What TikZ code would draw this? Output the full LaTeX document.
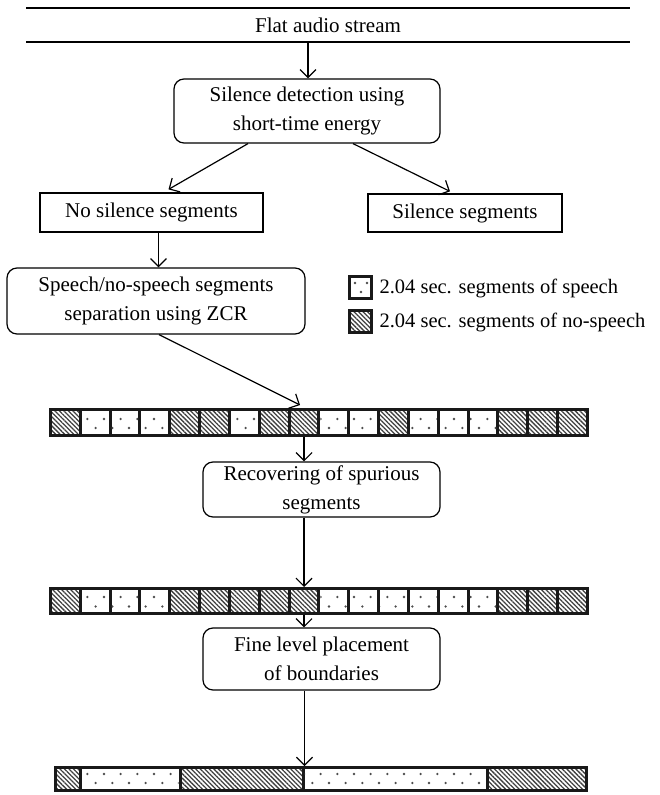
\documentclass[tikz,border=0pt]{standalone}
\usepackage{fontspec}
\setmainfont{Liberation Serif}
\usetikzlibrary{arrows.meta,patterns.meta,positioning}

\tikzset{
  box/.style={draw,line width=1.2pt,align=center,inner sep=0pt},
  rbox/.style={box,rounded corners=10pt},
  cell/.style={draw=black!90,line width=3pt,minimum width=29.83pt,inner sep=0pt},
  nosp/.style={pattern={Lines[angle=-45,distance=3.2pt,line width=1.3pt]},pattern color=black!75},
  spch/.style={fill=white},
  arr/.style={-{Straight Barb[length=8pt,width=16pt]},line width=1.2pt}
}

\begin{document}
\begin{tikzpicture}[x=1pt,y=-1pt,font=\fontsize{21}{29}\selectfont]
\useasboundingbox (0,0) rectangle (660,795);

	% input stream
	\draw[line width=1.5pt] (26,8) -- (630,8);
	\draw[line width=1.5pt] (26,42) -- (630,42);
	\node (stream) at (328,25) {Flat audio stream};
	\coordinate (bar) at (308,42);

	% boxes
	\node[rbox,minimum width=266pt,minimum height=64pt] (detect) at (307,111) {Silence detection using\\short-time energy};
	\node[box,minimum width=223pt,minimum height=39pt] (nosil) at (151.5,212.5) {No silence segments};
	\node[box,minimum width=194pt,minimum height=38pt] (sil) at (465,213) {Silence segments};
	\node[rbox,minimum width=298pt,minimum height=66pt] (sepzcr) at (156,301) {Speech/no-speech segments\\separation using ZCR};
	\node[rbox,minimum width=237pt,minimum height=55pt] (recover) at (321.5,489.5) {Recovering of spurious\\segments};
	\node[rbox,minimum width=237pt,minimum height=62pt] (fine) at (321.5,659) {Fine level placement\\of boundaries};

	% legend
	\node[cell,spch,minimum width=22pt,minimum height=22pt] (keyS) at (360,287) {};
	\node[cell,nosp,minimum width=22pt,minimum height=22pt] (keyN) at (360,321) {};
	\node[anchor=west,font=\fontsize{20.5}{29}\selectfont] (keyStxt) at (376,288) {2.04 sec. segments of speech};
	\node[anchor=west,font=\fontsize{20.5}{29}\selectfont] (keyNtxt) at (376,322) {2.04 sec. segments of no-speech};
	\begin{scope}
		\clip ([shift={(3pt,-3pt)}]keyS.north west) rectangle ([shift={(-3pt,3pt)}]keyS.south east);
		\fill[black!70] (355,283) circle (1.3pt);
		\fill[black!70] (367,283) circle (1.3pt);
		\fill[black!70] (361,292) circle (1.3pt);
	\end{scope}

	% strip after ZCR
	\foreach \t [count=\i from 0] in {nosp,spch,spch,spch,nosp,nosp,spch,nosp,nosp,spch,spch,nosp,spch,spch,spch,nosp,nosp,nosp}
	{
		\node[cell,minimum height=26pt,\t] (a\i) at ({50.5+29.83*(\i+0.5)},422.5) {};
	}
	\foreach \i in {1,2,3,6,9,10,12,13,14}
	{
		\begin{scope}
			\clip ([shift={(3pt,-3pt)}]a\i.north west) rectangle ([shift={(-3pt,3pt)}]a\i.south east);
			\foreach \k in {-3,...,33}
			{
				\fill[black!70] ({87.33+16.667*\k},419) circle (1.3pt);
				\fill[black!70] ({95.67+16.667*\k},428) circle (1.3pt);
			}
		\end{scope}
	}

	% strip after recovering
	\foreach \t [count=\i from 0] in {nosp,spch,spch,spch,nosp,nosp,nosp,nosp,nosp,spch,spch,spch,spch,spch,spch,nosp,nosp,nosp}
	{
		\node[cell,minimum height=25pt,\t] (b\i) at ({50.5+29.83*(\i+0.5)},601) {};
	}
	\foreach \i in {1,2,3,9,10,11,12,13,14}
	{
		\begin{scope}
			\clip ([shift={(3pt,-3pt)}]b\i.north west) rectangle ([shift={(-3pt,3pt)}]b\i.south east);
			\foreach \k in {-3,...,33}
			{
				\fill[black!70] ({87.33+16.667*\k},597) circle (1.3pt);
				\fill[black!70] ({95.67+16.667*\k},606.5) circle (1.3pt);
			}
		\end{scope}
	}

	% final strip
	\foreach \l/\r/\t [count=\i from 0] in {55.5/80/nosp, 80/180/spch, 180/303/nosp, 303/487/spch, 487/586.5/nosp}
	{
		\node[cell,minimum width={(\r-\l)*1pt},minimum height=23pt,\t] (c\i) at ({(\l+\r)/2},779) {};
	}
	\foreach \i in {1,3}
	{
		\begin{scope}
			\clip ([shift={(3pt,-3pt)}]c\i.north west) rectangle ([shift={(-3pt,3pt)}]c\i.south east);
			\foreach \k in {-3,...,33}
			{
				\fill[black!70] ({87.33+16.667*\k},774) circle (1.3pt);
				\fill[black!70] ({95.67+16.667*\k},783) circle (1.3pt);
			}
		\end{scope}
	}

	% arrows
	\coordinate (n1) at ([xshift=7pt]nosil.south);
	\draw[arr] (bar) -- (bar |- detect.north);
	\draw[arr] ([xshift=-59pt]detect.south) -- ([xshift=17pt,yshift=3pt]nosil.north);
	\draw[arr] ([xshift=46pt]detect.south) -- ([xshift=-15pt,yshift=2pt]sil.north);
	\draw[arr] (n1) -- (n1 |- sepzcr.north);
	\draw[arr] ([xshift=3pt]sepzcr.south) -- ([xshift=-4pt,yshift=3pt]a8.north);
	\draw[arr] (a8.south) -- (a8.south |- recover.north);
	\draw[arr] (recover.south -| b8.south) -- (b8.north);
	\draw[arr] (b8.south) -- (b8.south |- fine.north);
	\draw[arr] (fine.south -| c2.north east) -- (c2.north east);
\end{tikzpicture}
\end{document}
